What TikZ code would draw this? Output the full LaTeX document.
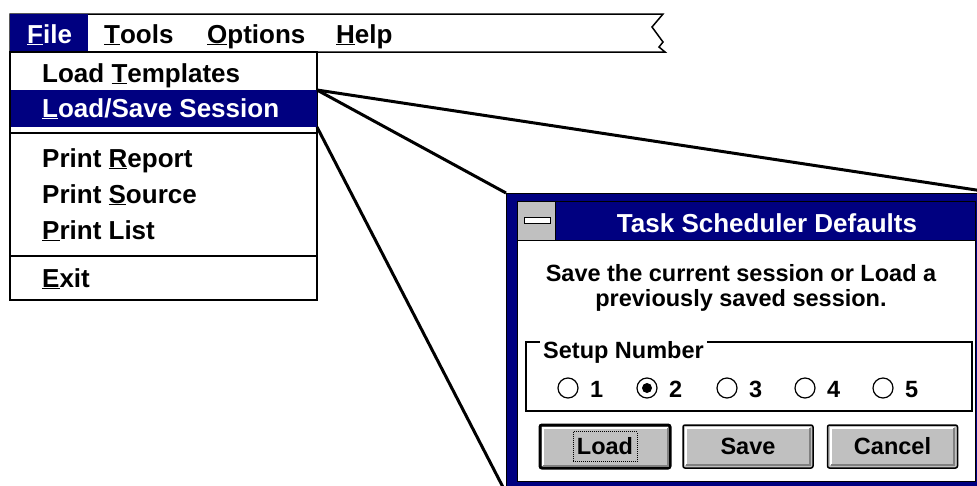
\documentclass[tikz,border=0pt]{standalone}
\usepackage{fontspec}
\setmainfont{Liberation Sans}
\usetikzlibrary{calc}
\definecolor{winblue}{RGB}{0,0,128}
\definecolor{wingray}{RGB}{192,192,192}
\definecolor{winshadow}{RGB}{128,128,128}
\newcommand{\hot}[1]{\underline{#1}}
\newcommand{\menufont}{\fontsize{26}{30}\selectfont\bfseries}
\newcommand{\dlgfont}{\fontsize{23.5}{28}\selectfont\bfseries}
\tikzset{
  menuitem/.style={anchor=base west, inner sep=0pt, font=\menufont},
  dlgtext/.style={anchor=base, inner sep=0pt, font=\dlgfont},
  zoomline/.style={line width=3pt, black},
  winbutton/.style={draw=black, line width=1.5pt, fill=wingray, rounded corners=2pt,
    minimum width=130pt, minimum height=43pt, inner sep=0pt, font=\dlgfont},
  panel/.style={anchor=north west, inner sep=0pt, outer sep=0pt}
}

\begin{document}
\begin{tikzpicture}[x=1pt,y=-1pt]
\useasboundingbox (0,0) rectangle (977,485);
\clip (0,0) rectangle (977,485);

% menu bar
\draw[line width=1.5pt, fill=white] (10,14) -- (663,14) -- (652,27) -- (663,42)
  -- (659,47) -- (665,52) -- (10,52) -- cycle;
\node[panel, fill=winblue, minimum width=78pt, minimum height=38pt] (filebox) at (10,14) {};
\node[menuitem, text=white] (file) at (27,43) {\hot{F}ile};
\node[menuitem] (tools) at (104,43) {\hot{T}ools};
\node[menuitem] (options) at (207,43) {\hot{O}ptions};
\node[menuitem] (help) at (336,43) {\hot{H}elp};

% drop-down
\node[panel, draw, line width=1.5pt, fill=white, minimum width=307pt, minimum height=248pt] (drop) at (10,52) {};
\node[panel, fill=winblue, minimum width=306pt, minimum height=37pt] (selrow) at (11,90) {};
\node[menuitem] (templ) at (42,82) {Load \hot{T}emplates};
\node[menuitem, text=white] (session) at (42,117) {\hot{L}oad/Save Session};
\draw[line width=1.5pt] (drop.west |- 0,133) -- (drop.east |- 0,133);
\node[menuitem] (report) at (42,167) {Print \hot{R}eport};
\node[menuitem] (source) at (42,203) {Print \hot{S}ource};
\node[menuitem] (list) at (42,239) {\hot{P}rint List};
\draw[line width=1.5pt] (drop.west |- 0,256) -- (drop.east |- 0,256);
\node[menuitem] (exit) at (42,287) {\hot{E}xit};

% dialog
\node[panel, draw=black, line width=1pt, fill=winblue, minimum width=490pt, minimum height=300pt] (dlg) at (506,193) {};
\draw[fill=white, line width=1pt] (517,201) rectangle (975,481);
\draw[fill=winblue, line width=1pt] (517,201) rectangle (975,240);
\draw[fill=wingray, line width=1pt] (517,201) rectangle (555,240);
\draw[fill=white, line width=1pt] (524,217) rectangle (550,223);
\node[dlgtext, text=white, font=\menufont] (title) at (767,232) {Task Scheduler Defaults};
\node[dlgtext] (msg1) at (741,281) {Save the current session or Load a};
\node[dlgtext] (msg2) at (741,306) {previously saved session.};

% setup number group
\draw[line width=1.2pt] (526,342) rectangle (972,411);
\node[dlgtext, anchor=base west, fill=white, inner xsep=3pt] (setup) at (540,358) {Setup Number};
\foreach \n/\cx in {1/568,2/647,3/727,4/805,5/883} {
  \draw[line width=1.2pt, fill=white] (\cx,388) circle[radius=10pt];
  \node[dlgtext, anchor=base west] (r\n) at (\cx+22,397) {\n};
}
\fill (647,388) circle[radius=5pt];

% buttons
\node[winbutton, line width=3pt] (load) at (605,446.5) {};
\node[winbutton] (save) at (748,446.5) {};
\node[winbutton] (cancel) at (892.5,446.5) {};
\foreach \b in {load,save,cancel} {
  \draw[white, line width=2pt] ($(\b.south west)+(4,-4)$) -- ($(\b.north west)+(4,4)$) -- ($(\b.north east)+(-4,4)$);
  \draw[winshadow, line width=2pt] ($(\b.south west)+(4,-4)$) -- ($(\b.south east)+(-4,-4)$) -- ($(\b.north east)+(-4,4)$);
}
\node[dlgtext, anchor=center] (loadtxt) at (load.center) {Load};
\node[dlgtext, anchor=center] (savetxt) at (save.center) {Save};
\node[dlgtext, anchor=center] (canceltxt) at (cancel.center) {Cancel};
\draw[densely dotted, line width=1pt] ($(load.center)+(-32,-15)$) rectangle ($(load.center)+(32,15)$);

% zoom lines
\draw[zoomline] (selrow.north east) -- (dlg.north west);
\draw[zoomline] (selrow.north east) -- (dlg.north east);
\draw[zoomline] (selrow.south east) -- (dlg.south west);
\end{tikzpicture}
\end{document}
